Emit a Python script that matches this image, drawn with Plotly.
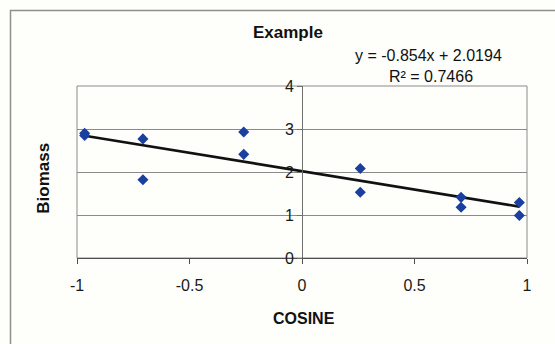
import plotly.graph_objects as go

# Biomass measured against the cosine of the aspect angle
cosine = [-0.966, -0.966, -0.707, -0.707, -0.259, -0.259,
          0.259, 0.259, 0.707, 0.707, 0.966, 0.966]
biomass = [2.90, 2.85, 2.77, 1.82, 2.93, 2.41,
           2.08, 1.53, 1.41, 1.18, 1.29, 0.99]

# Linear trendline coefficients shown on the chart
slope = -0.854
intercept = 2.0194
r_squared = 0.7466

x_ticks = [-1, -0.5, 0, 0.5, 1]
y_ticks = [0, 1, 2, 3, 4]

W, H = 555, 344
ML, MR, MT, MB = 77, 28, 86, 86
PW, PH = W - ML - MR, H - MT - MB


def px_x(px):
    return (px - ML) / PW


def px_y(py):
    return (H - MB - py) / PH


FONT = "Arial, Liberation Sans, sans-serif"
BG = "#fefefa"

fig = go.Figure()

trend_x = [min(cosine), max(cosine)]
trend_y = [slope * v + intercept for v in trend_x]
fig.add_trace(go.Scatter(
    x=trend_x, y=trend_y, mode="lines",
    line=dict(color="#111111", width=2.6),
    hoverinfo="skip", showlegend=False,
))

fig.add_trace(go.Scatter(
    x=cosine, y=biomass, mode="markers",
    marker=dict(symbol="diamond", size=8.5, color="#1a3f9e",
                line=dict(width=0)),
    showlegend=False,
))

fig.update_layout(
    width=W, height=H,
    margin=dict(l=ML, r=MR, t=MT, b=MB),
    paper_bgcolor=BG, plot_bgcolor=BG,
    font=dict(family=FONT, color="#111111", size=16),
    xaxis=dict(
        range=[-1, 1], tickvals=x_ticks,
        ticktext=[f"{v:g}" for v in x_ticks],
        showgrid=False, zeroline=False,
        showline=True, linecolor="#505050", linewidth=1.3,
        ticks="outside", ticklen=5, tickcolor="#505050",
        ticklabelstandoff=8,
        tickfont=dict(size=16, color="#1a1a1a"),
    ),
    yaxis=dict(
        range=[0, 4], tickvals=y_ticks,
        showgrid=True, gridcolor="#8a8a8a", gridwidth=1,
        zeroline=False,
        anchor="free", position=0.5,
        showline=True, linecolor="#707070", linewidth=1,
        ticks="outside", ticklen=5, tickcolor="#707070",
        ticklabelstandoff=0,
        tickfont=dict(size=16, color="#1a1a1a"),
    ),
)

# plot-area border and outer chart frame
fig.add_shape(type="rect", xref="x domain", yref="y domain",
              x0=0, x1=1, y0=0, y1=1,
              line=dict(color="#8a8a8a", width=1), layer="below")
fig.add_shape(type="rect", xref="paper", yref="paper",
              x0=px_x(10.5), x1=px_x(570), y0=px_y(10.5), y1=px_y(360),
              line=dict(color="#8f8f8f", width=1.5))

notes = [
    dict(text="<b>Example</b>", x=287.5, y=32.5, size=17),
    dict(text=f"y = {slope}x + {intercept}", x=428.5, y=55.5, size=16),
    dict(text=f"R² = {r_squared}", x=430.5, y=76.5, size=16),
    dict(text="<b>COSINE</b>", x=304, y=318.5, size=16),
]
for n in notes:
    fig.add_annotation(text=n["text"], xref="paper", yref="paper",
                       x=px_x(n["x"]), y=px_y(n["y"]),
                       xanchor="center", yanchor="middle",
                       showarrow=False,
                       font=dict(family=FONT, size=n["size"], color="#111111"))

fig.add_annotation(text="<b>Biomass</b>", xref="paper", yref="paper",
                   x=px_x(42.7), y=px_y(178), textangle=-90,
                   xanchor="center", yanchor="middle", showarrow=False,
                   font=dict(family=FONT, size=17, color="#111111"))

fig.write_html("out.html")
